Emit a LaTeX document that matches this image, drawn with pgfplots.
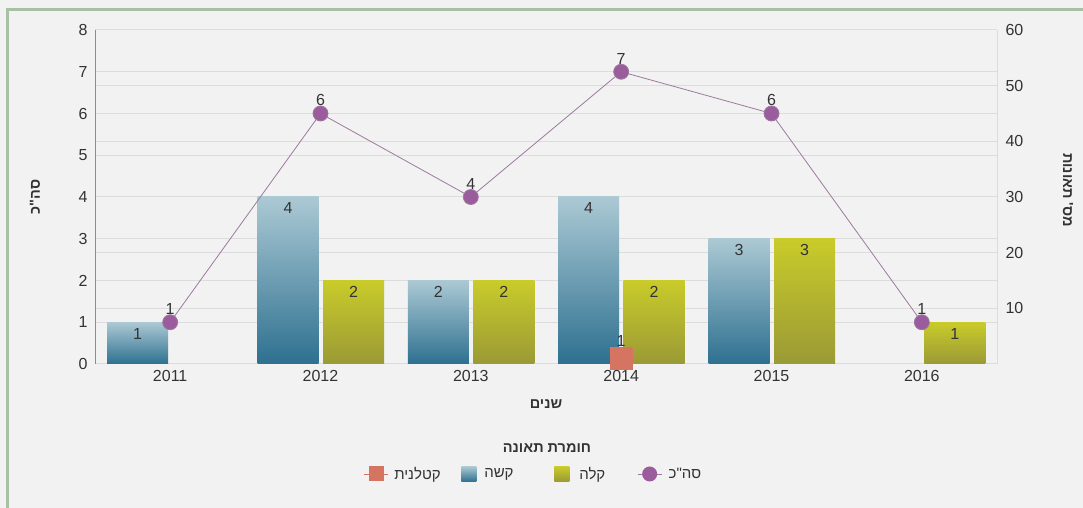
\documentclass[border=0pt]{standalone}
\usepackage{fontspec}
\setmainfont{Liberation Sans}
\newfontfamily\heb[Script=Hebrew]{Liberation Sans}
\usepackage{pgfplots}
\pgfplotsset{compat=1.18}
\TeXXeTstate=1
\definecolor{bg}{HTML}{F2F2F2}
\definecolor{framec}{HTML}{A9C0A5}
\definecolor{gridc}{HTML}{DCDCDC}
\definecolor{axisc}{HTML}{8C8C8C}
\definecolor{tickc}{HTML}{333333}
\definecolor{bluetop}{HTML}{ABC9D3}
\definecolor{bluebot}{HTML}{2E7090}
\definecolor{yeltop}{HTML}{C9CB2A}
\definecolor{yelbot}{HTML}{9A9A36}
\definecolor{markc}{HTML}{9A5C9C}
\definecolor{linec}{HTML}{9C7A9C}
\definecolor{redc}{HTML}{D67462}
\newcommand{\R}[1]{{\heb\beginR #1\endR}}
\tikzset{lbl/.style={font=\fontsize{16}{18}\selectfont, text=tickc, inner sep=0pt}}
\pgfplotsset{
  common/.style={at={(95pt,144pt)}, anchor=south west, scale only axis,
    width=902pt, height=334pt, xmin=-0.5, xmax=5.5,
    major tick length=0pt, clip=false,
    tick label style={font=\fontsize{16}{18}\selectfont, text=tickc},
    /pgf/number format/assume math mode=true,
    grid style={draw=gridc, line width=1pt}},
  bluebar/.style={ybar, bar width=61pt, bar shift=-32.5pt, draw=none, top color=bluetop, bottom color=bluebot,
    nodes near coords, every node near coord/.append style={lbl, yshift=-17pt, xshift=-32.5pt}},
  yelbar/.style={ybar, bar width=61pt, bar shift=33pt, draw=none, top color=yeltop, bottom color=yelbot,
    nodes near coords, every node near coord/.append style={lbl, yshift=-17pt, xshift=33pt}},
}
\begin{document}
\begin{tikzpicture}
\fill[bg] (0pt,0pt) rectangle (1083pt,508pt);
\useasboundingbox (0pt,0pt) rectangle (1083pt,508pt);
\draw[framec, line width=3pt] (7.5pt,0pt) -- (7.5pt,498pt) -- (1083pt,498pt);
% right scale: grid, ticks, label
\begin{axis}[common, ymin=0, ymax=60,
  axis y line*=right, axis x line=none,
  y axis line style={-, draw=gridc, line width=1pt},
  ytick={10,20,...,60}, ymajorgrids,
  yticklabel style={xshift=5pt},
  ylabel={\R{מס\char39\ תאונות}},
  every axis y label/.style={at={(axis description cs:1.0787,0.521)}, rotate=-90, anchor=center, font=\fontsize{14.5}{17}\selectfont\bfseries, text=tickc},
]
\end{axis}
% left scale: bars and total line
\begin{axis}[common, ymin=0, ymax=8,
  axis y line*=left, axis x line*=bottom,
  x axis line style={-, draw=gridc, line width=1pt},
  y axis line style={-, draw=axisc, line width=1pt},
  xtick={0,...,5}, xticklabels={2011,2012,2013,2014,2015,2016},
  ytick={0,...,8}, ymajorgrids,
  yticklabel style={xshift=-4pt},
  xticklabel style={yshift=-3pt},
  xlabel={\R{שנים}},
  every axis x label/.style={at={(axis description cs:0.5,-0.1198)}, anchor=center, font=\fontsize{14.5}{17}\selectfont\bfseries, text=tickc},
  ylabel={\R{סה"כ}},
  every axis y label/.style={at={(axis description cs:-0.0665,0.5)}, rotate=90, anchor=center, font=\fontsize{14.5}{17}\selectfont\bfseries, text=tickc},
]
% קשה
\addplot[bluebar] coordinates {(0,1)};
\addplot[bluebar] coordinates {(1,4)};
\addplot[bluebar] coordinates {(2,2)};
\addplot[bluebar] coordinates {(3,4)};
\addplot[bluebar] coordinates {(4,3)};
% קלה
\addplot[yelbar] coordinates {(1,2)};
\addplot[yelbar] coordinates {(2,2)};
\addplot[yelbar] coordinates {(3,2)};
\addplot[yelbar] coordinates {(4,3)};
\addplot[yelbar] coordinates {(5,1)};
% סה"כ
\addplot[linec, line width=0.8pt, mark=*, mark size=7.5pt, mark options={draw=none, fill=markc},
  nodes near coords, every node near coord/.append style={lbl, yshift=7pt}]
  coordinates {(0,1) (1,6) (2,4) (3,7) (4,6) (5,1)};
\end{axis}
% right scale: killer series and legend
\begin{axis}[common, ymin=0, ymax=60, hide axis,
  legend columns=4,
  legend style={at={(axis description cs:0.485,-0.3293)}, anchor=center, draw=none, fill=none,
    inner sep=0pt, outer sep=0pt, column sep=0pt, row sep=0pt,
    nodes={inner sep=0pt, outer sep=0pt, font=\fontsize{15}{18}\selectfont, text=tickc}},
]
\addplot[color=redc, only marks, mark=square*, mark size=11pt, mark options={draw=redc, fill=redc, line width=0pt},
  nodes near coords, every node near coord/.append style={lbl, yshift=12pt},
  legend image code/.code={\draw[redc, line width=0.8pt] (0pt,0pt) -- (24pt,0pt); \fill[redc, draw=none] (4.5pt,-7.5pt) rectangle (19.5pt,7.5pt); \path[draw=none, fill=none] (0pt,-8pt) rectangle (30pt,8pt);}]
  coordinates {(3,1)};
\addlegendentry{\makebox[67pt][l]{\R{קטלנית}}}
\addlegendimage{legend image code/.code={\shade[draw=none, top color=bluetop, bottom color=bluebot] (0pt,-7.5pt) rectangle (15pt,7.5pt); \path[draw=none, fill=none] (0pt,-8pt) rectangle (23pt,8pt);}}
\addlegendentry{\makebox[70pt][l]{\R{קשה}}}
\addlegendimage{legend image code/.code={\shade[draw=none, top color=yeltop, bottom color=yelbot] (0pt,-7.5pt) rectangle (15pt,7.5pt); \path[draw=none, fill=none] (0pt,-8pt) rectangle (25pt,8pt);}}
\addlegendentry{\makebox[58pt][l]{\R{קלה}}}
\addlegendimage{legend image code/.code={\draw[linec, line width=0.8pt] (0pt,0pt) -- (24pt,0pt); \fill[markc, draw=none] (12pt,0pt) circle (7.5pt); \path[draw=none, fill=none] (0pt,-8pt) rectangle (31pt,8pt);}}
\addlegendentry{\R{סה"כ}}
\end{axis}
\node[font=\fontsize{14.5}{17}\selectfont\bfseries, text=tickc] at (547pt,60pt) {\R{חומרת תאונה}};
\end{tikzpicture}
\end{document}
